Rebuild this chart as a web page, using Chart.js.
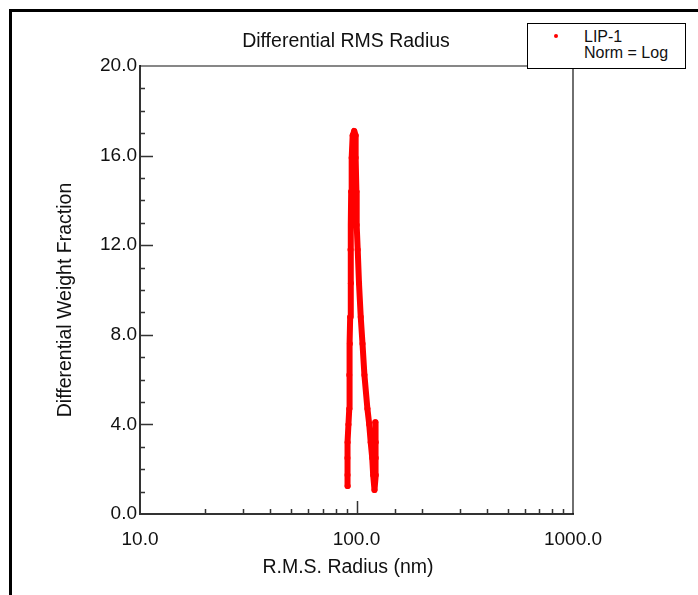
<!DOCTYPE html>
<html>
<head>
<meta charset="utf-8">
<script src="https://cdn.jsdelivr.net/npm/chart.js@4.4.1/dist/chart.umd.min.js"></script>
<style>
  body { margin: 0; background: #ffffff; font-family: "Liberation Sans", Arial, sans-serif; }
  #wrap { position: relative; width: 698px; height: 595px; overflow: hidden; }
  #frame { position: absolute; left: 9px; top: 9px; width: 800px; height: 700px; border: 3px solid #000; }
  #chart { position: absolute; left: 0; top: 0; }
  #legend { position: absolute; left: 527px; top: 23px; width: 157px; height: 44px; border: 1px solid #000; background: #fff; color: #111; font-size: 16px; line-height: 16px; }
  #legend .dot { position: absolute; left: 26px; top: 10px; width: 4px; height: 4px; border-radius: 50%; background: #ff0000; }
  #legend .txt { position: absolute; left: 56px; top: 5px; }
</style>
</head>
<body>
<div id="wrap">
  <div id="frame"></div>
  <canvas id="chart" width="698" height="595"></canvas>
  <div id="legend"><div class="dot"></div><div class="txt">LIP-1<br>Norm = Log</div></div>
</div>
<script>
// rising side, peak, falling side, then the small tail at the end
var radiusNm = [91.0, 90.9, 90.8, 91.0, 91.8, 92.6, 92.6, 93.2, 93.5, 94.2, 93.8, 94.3, 94.5, 95.0, 96.0, 97.6,
                99.1, 99.1, 99.9, 100.2, 101.3, 102.7, 104.6, 106.6, 108.8, 112.3, 114.5, 116.3, 118.2, 119.4, 121.1,
                122.7, 122.7, 122.7, 122.0];
var weightFraction = [1.25, 1.74, 2.5, 3.2, 4.0, 4.7, 6.2, 7.6, 8.8, 10.3, 11.8, 12.9, 14.4, 15.9, 16.9, 17.1,
                      16.9, 15.9, 14.4, 12.9, 11.8, 10.3, 8.8, 7.6, 6.2, 4.7, 4.0, 3.2, 2.5, 1.74, 1.07,
                      1.74, 2.5, 3.2, 4.1];

var xMin = 10, xMax = 1000;
var yMin = 0, yMax = 20, yStep = 4;

var chartTitle = 'Differential RMS Radius';
var xTitle = 'R.M.S. Radius (nm)';
var yTitle = 'Differential Weight Fraction';

var points = [];
for (var i = 0; i < radiusNm.length; i++) {
  points.push({x: radiusNm[i], y: weightFraction[i]});
}

var fontFamily = '"Liberation Sans", Arial, sans-serif';

// ticks point into the plot, plus the top and right edges of the box
var innerTicks = {
  id: 'innerTicks',
  beforeDatasetsDraw: function(chart) {
    var ctx = chart.ctx;
    var a = chart.chartArea;
    var x = chart.scales.x;
    var y = chart.scales.y;
    ctx.save();
    ctx.strokeStyle = '#111';
    ctx.lineWidth = 1.2;
    ctx.beginPath();
    ctx.moveTo(a.left, a.top);
    ctx.lineTo(a.right, a.top);
    ctx.lineTo(a.right, a.bottom);
    ctx.stroke();
    ctx.strokeStyle = '#333';
    ctx.lineWidth = 1.5;
    ctx.beginPath();
    x.ticks.forEach(function(t) {
      if (t.value <= xMin || t.value >= xMax) return;
      var px = Math.round(x.getPixelForValue(t.value)) + 0.5;
      var isDecade = Math.abs(Math.log10(t.value) - Math.round(Math.log10(t.value))) < 1e-9;
      var len = isDecade ? 13 : 5;
      ctx.moveTo(px, a.bottom);
      ctx.lineTo(px, a.bottom - len);
    });
    for (var v = yMin + 1; v < yMax; v++) {
      var py = Math.round(y.getPixelForValue(v)) + 0.5;
      var len = (v % yStep === 0) ? 13 : 5;
      ctx.moveTo(a.left, py);
      ctx.lineTo(a.left + len, py);
    }
    ctx.stroke();
    ctx.restore();
  }
};

// titles sit a little off the plot centre in the original
var titles = {
  id: 'titles',
  afterDraw: function(chart) {
    var ctx = chart.ctx;
    ctx.save();
    ctx.fillStyle = '#111';
    ctx.font = '19.5px ' + fontFamily;
    ctx.textAlign = 'center';
    ctx.textBaseline = 'middle';
    ctx.fillText(chartTitle, 346, 42);
    ctx.fillText(xTitle, 348, 568);
    ctx.translate(66, 300);
    ctx.rotate(-Math.PI / 2);
    ctx.fillText(yTitle, 0, 0);
    ctx.restore();
  }
};

var chart = new Chart(document.getElementById('chart'), {
  type: 'scatter',
  data: {
    datasets: [{
      label: 'LIP-1',
      data: points,
      showLine: true,
      borderColor: '#ff0000',
      backgroundColor: '#ff0000',
      borderWidth: 6,
      borderCapStyle: 'round',
      borderJoinStyle: 'round',
      pointRadius: 3,
      pointBorderWidth: 0,
      tension: 0
    }]
  },
  options: {
    responsive: false,
    animation: false,
    layout: { padding: { left: 0, right: 125, top: 66, bottom: 0 } },
    plugins: {
      legend: { display: false },
      tooltip: { enabled: false },
      title: { display: false }
    },
    scales: {
      x: {
        type: 'logarithmic',
        min: xMin,
        max: xMax,
        afterFit: function(s) { s.height = 81; },
        grid: { display: false, drawTicks: false },
        border: { display: true, color: '#333', width: 2 },
        ticks: {
          autoSkip: false,
          maxRotation: 0,
          padding: 14,
          color: '#111',
          font: { family: fontFamily, size: 19 },
          callback: function(v) {
            var l = Math.log10(v);
            if (Math.abs(l - Math.round(l)) < 1e-9) return Number(v).toFixed(1);
            return '';
          }
        }
      },
      y: {
        min: yMin,
        max: yMax,
        afterFit: function(s) { s.width = 140; },
        grid: { display: false, drawTicks: false },
        border: { display: true, color: '#333', width: 2 },
        ticks: {
          stepSize: yStep,
          padding: 3,
          color: '#111',
          font: { family: fontFamily, size: 19 },
          callback: function(v) { return Number(v).toFixed(1); }
        }
      }
    }
  },
  plugins: [innerTicks, titles]
});
</script>
</body>
</html>
